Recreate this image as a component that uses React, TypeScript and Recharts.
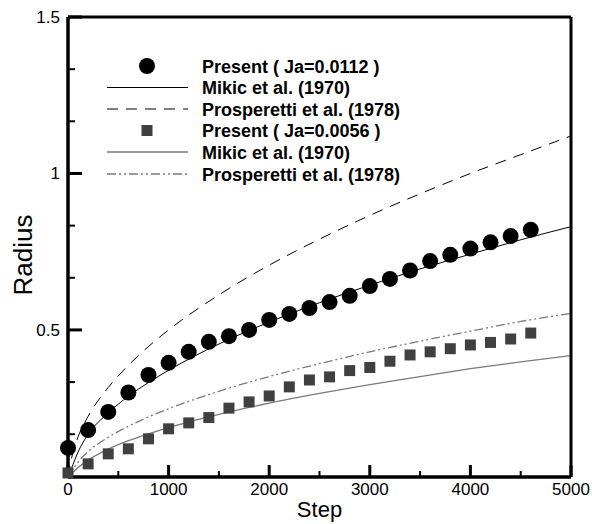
import React from 'react';
import { ComposedChart, Line, Scatter, XAxis, YAxis, ZAxis, Legend, Label } from 'recharts';

// ---- data ----
const presentSteps = [0, 200, 400, 600, 800, 1000, 1200, 1400, 1600, 1800, 2000, 2200, 2400, 2600, 2800, 3000, 3200, 3400, 3600, 3800, 4000, 4200, 4400, 4600];
const presentHigh = [0.123, 0.18, 0.238, 0.3, 0.356, 0.395, 0.43, 0.462, 0.48, 0.5, 0.532, 0.551, 0.57, 0.589, 0.609, 0.64, 0.663, 0.69, 0.72, 0.74, 0.76, 0.78, 0.8, 0.82];
const presentLow = [0.043, 0.072, 0.104, 0.12, 0.152, 0.184, 0.203, 0.22, 0.25, 0.27, 0.289, 0.318, 0.34, 0.35, 0.37, 0.38, 0.4, 0.42, 0.43, 0.44, 0.452, 0.46, 0.471, 0.49];

const curveSteps = [0, 50, 100, 200, 400, 600, 800, 1000, 1500, 2000, 2500, 3000, 3500, 4000, 4500, 5000];
const mikicHigh = [0.03, 0.07, 0.11, 0.166, 0.235, 0.288, 0.332, 0.371, 0.455, 0.525, 0.587, 0.643, 0.695, 0.742, 0.788, 0.83];
const prospHigh = [0.03, 0.11, 0.158, 0.224, 0.316, 0.387, 0.447, 0.5, 0.612, 0.707, 0.79, 0.866, 0.935, 1.0, 1.06, 1.12];
const mikicLow = [0.03, 0.045, 0.06, 0.084, 0.119, 0.146, 0.168, 0.188, 0.23, 0.266, 0.297, 0.325, 0.351, 0.376, 0.398, 0.418];
const prospLow = [0.03, 0.055, 0.078, 0.111, 0.157, 0.192, 0.222, 0.248, 0.304, 0.351, 0.392, 0.43, 0.464, 0.496, 0.527, 0.553];

const xTicks = [0, 500, 1000, 1500, 2000, 2500, 3000, 3500, 4000, 4500, 5000];
const xMajor = [0, 1000, 2000, 3000, 4000, 5000];
const yTicks = [0.1667, 0.3333, 0.5, 0.6667, 0.8333, 1, 1.1667, 1.3333, 1.5];
const yMajor = [0.5, 1, 1.5];
const xMin = 0;
const xMax = 5000;
const yMin = 0.03;
const yMax = 1.5;
const xTitle = 'Step';
const yTitle = 'Radius';

const seriesNames = [
  'Present ( Ja=0.0112 )',
  'Mikic et al. (1970)',
  'Prosperetti et al. (1978)',
  'Present ( Ja=0.0056 )',
  'Mikic et al. (1970)',
  'Prosperetti et al. (1978)',
];

const toPoints = (xs: number[], ys: number[]) => xs.map((x, i) => ({ x, y: ys[i] }));

// frame edges and tick-mark anchors, built from the axis ranges / tick lists
const frameTop = [{ x: xMin, y: yMax }, { x: xMax, y: yMax }];
const frameRight = [{ x: xMax, y: yMin }, { x: xMax, y: yMax }];
const frameBottom = [{ x: xMin, y: yMin }, { x: xMax, y: yMin }];
const frameLeft = [{ x: xMin, y: yMin }, { x: xMin, y: yMax }];
const xTickMarks = xTicks.map((t) => ({ x: t, y: yMin, major: xMajor.includes(t) }));
const yTickMarks = yTicks.map((t) => ({ x: xMin, y: t, major: yMajor.includes(t) }));

const FONT = '"Liberation Sans", Arial, Helvetica, sans-serif';
const GRAY_LINE = '#7a7a7a';
const SQUARE = '#404040';
const DASH_P1 = '11 8';
const DASH_P2 = '9 3 2 3 2 3';

const XTick = (props: any) => {
  const { x, y, payload } = props;
  if (!xMajor.includes(payload.value)) return <g />;
  return (
    <text x={x} y={y + 18} textAnchor="middle" fontSize={17} fontFamily={FONT} fill="#000">
      {String(payload.value)}
    </text>
  );
};

const YTick = (props: any) => {
  const { x, y, payload } = props;
  if (!yMajor.includes(payload.value)) return <g />;
  return (
    <text x={x - 8} y={y + 6} textAnchor="end" fontSize={17} fontFamily={FONT} fill="#000">
      {String(payload.value)}
    </text>
  );
};

const XTickMark = (props: any) => {
  const { cx, cy, payload } = props;
  const major = payload && payload.major;
  const w = major ? 3 : 2;
  const h = major ? 12 : 6;
  return <rect x={cx - w / 2} y={cy - h} width={w} height={h} fill="#000" />;
};

const YTickMark = (props: any) => {
  const { cx, cy, payload } = props;
  const major = payload && payload.major;
  const w = major ? 14 : 7;
  const h = major ? 3 : 2;
  return <rect x={cx} y={cy - h / 2} width={w} height={h} fill="#000" />;
};

const renderLegend = () => {
  const rowY = [66, 87.5, 109, 130.5, 152, 174];
  const x0 = 107;
  const x1 = 188;
  const cx = 147;
  return (
    <div>
      <svg width={420} height={190} style={{ display: 'block' }}>
        <circle cx={cx} cy={rowY[0]} r={8} fill="#000" />
        <line x1={x0} x2={x1} y1={rowY[1]} y2={rowY[1]} stroke="#000" strokeWidth={1} />
        <line x1={x0} x2={x1} y1={rowY[2]} y2={rowY[2]} stroke="#000" strokeWidth={1} strokeDasharray={DASH_P1} />
        <rect x={cx - 5.5} y={rowY[3] - 5.5} width={11} height={11} fill={SQUARE} />
        <line x1={x0} x2={x1} y1={rowY[4]} y2={rowY[4]} stroke={GRAY_LINE} strokeWidth={1.3} />
        <line x1={x0} x2={x1} y1={rowY[5]} y2={rowY[5]} stroke={GRAY_LINE} strokeWidth={1.3} strokeDasharray={DASH_P2} />
        {seriesNames.map((n, i) => (
          <text key={i} x={202} y={rowY[i] + 6.5} fontSize={18} fontWeight="bold" fontFamily={FONT} fill="#000">
            {n}
          </text>
        ))}
      </svg>
    </div>
  );
};

export default function App() {
  return (
    <div style={{ position: 'absolute', left: 0, top: 0, background: '#fff' }}>
      <ComposedChart width={592} height={524} margin={{ top: 17, right: 21, bottom: 0, left: 0 }}>
        <XAxis dataKey="x" type="number" domain={[xMin, xMax]} ticks={xTicks} interval={0} height={47}
          axisLine={{ stroke: '#000', strokeWidth: 3 }} tickLine={false} tickSize={0} tickMargin={0} tick={XTick}>
          <Label
            content={(p: any) => {
              const vb = p.viewBox;
              return (
                <text x={vb.x + vb.width / 2} y={517} textAnchor="middle" fontSize={22} fontFamily={FONT} fill="#000">
                  {xTitle}
                </text>
              );
            }}
          />
        </XAxis>
        <YAxis type="number" domain={[yMin, yMax]} ticks={yTicks} interval={0} width={68}
          axisLine={{ stroke: '#000', strokeWidth: 3 }} tickLine={false} tickSize={0} tickMargin={0} tick={YTick}>
          <Label
            content={() => (
              <text x={32} y={255} transform="rotate(-90, 32, 255)" textAnchor="middle" fontSize={26} fontFamily={FONT} fill="#000">
                {yTitle}
              </text>
            )}
          />
        </YAxis>
        <ZAxis zAxisId="big" range={[201, 201]} />
        <ZAxis zAxisId="small" range={[121, 121]} />

        <Line data={toPoints(curveSteps, prospHigh)} dataKey="y" type="monotone" dot={false} stroke="#000" strokeWidth={1} strokeDasharray={DASH_P1} isAnimationActive={false} />
        <Line data={toPoints(curveSteps, prospLow)} dataKey="y" type="monotone" dot={false} stroke={GRAY_LINE} strokeWidth={1.3} strokeDasharray={DASH_P2} isAnimationActive={false} />
        <Line data={toPoints(curveSteps, mikicLow)} dataKey="y" type="monotone" dot={false} stroke={GRAY_LINE} strokeWidth={1.3} isAnimationActive={false} />
        <Line data={toPoints(curveSteps, mikicHigh)} dataKey="y" type="monotone" dot={false} stroke="#000" strokeWidth={1} isAnimationActive={false} />

        {/* plot frame */}
        <Line data={frameTop} dataKey="y" type="linear" dot={false} stroke="#000" strokeWidth={3} isAnimationActive={false} legendType="none" />
        <Line data={frameRight} dataKey="y" type="linear" dot={false} stroke="#000" strokeWidth={3} isAnimationActive={false} legendType="none" />
        <Line data={frameBottom} dataKey="y" type="linear" dot={false} stroke="#000" strokeWidth={3} isAnimationActive={false} legendType="none" />
        <Line data={frameLeft} dataKey="y" type="linear" dot={false} stroke="#000" strokeWidth={3} isAnimationActive={false} legendType="none" />

        {/* inward tick marks */}
        <Scatter data={xTickMarks} dataKey="y" shape={XTickMark} isAnimationActive={false} legendType="none" />
        <Scatter data={yTickMarks} dataKey="y" shape={YTickMark} isAnimationActive={false} legendType="none" />

        <Scatter data={toPoints(presentSteps, presentLow)} dataKey="y" zAxisId="small" shape="square" fill={SQUARE} isAnimationActive={false} />
        <Scatter data={toPoints(presentSteps, presentHigh)} dataKey="y" zAxisId="big" shape="circle" fill="#000" isAnimationActive={false} />

        <Legend layout="horizontal" verticalAlign="middle" align="center" content={renderLegend}
          wrapperStyle={{ position: 'absolute', left: 0, top: 0 }} />
      </ComposedChart>
    </div>
  );
}
